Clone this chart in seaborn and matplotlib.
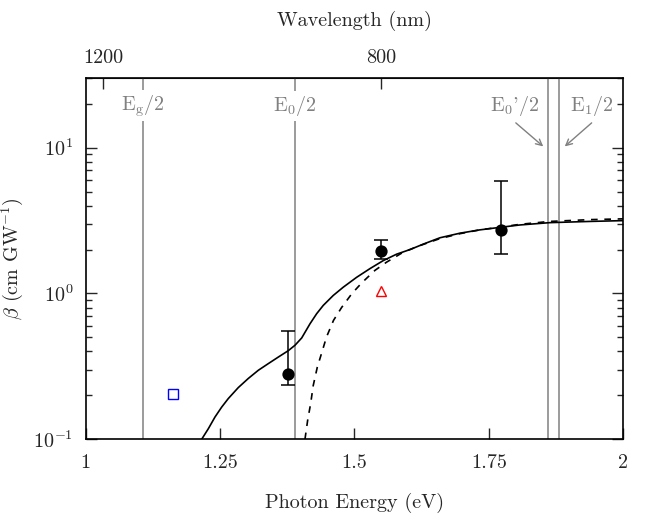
import numpy as np
import pandas as pd
import matplotlib
matplotlib.use("Agg")
import matplotlib.pyplot as plt
import seaborn as sns

# ---- data ----
solid_E = [1.216, 1.2283, 1.2407, 1.2531, 1.2654, 1.284, 1.3026, 1.3212, 1.3398, 1.3584,
           1.377, 1.3894, 1.4019, 1.4173, 1.4297, 1.442, 1.4606, 1.4792, 1.504, 1.5288,
           1.5535, 1.5784, 1.6032, 1.628, 1.659, 1.696, 1.733, 1.7704, 1.8076, 1.863,
           1.938, 2.0]
solid_beta = [0.100, 0.118, 0.142, 0.166, 0.190, 0.226, 0.261, 0.297, 0.330, 0.366,
              0.405, 0.441, 0.495, 0.619, 0.726, 0.828, 0.969, 1.104, 1.29, 1.48,
              1.68, 1.86, 2.00, 2.18, 2.41, 2.59, 2.73, 2.84, 2.95, 3.06,
              3.12, 3.16]

dash_E = [1.408, 1.413, 1.4186, 1.4234, 1.431, 1.439, 1.448, 1.461, 1.476, 1.495,
          1.5134, 1.5381, 1.5598, 1.5908, 1.6217, 1.659, 1.696, 1.733, 1.7704, 1.8076,
          1.863, 1.938, 2.0]
dash_beta = [0.100, 0.135, 0.176, 0.234, 0.313, 0.39, 0.502, 0.653, 0.80, 0.995,
             1.18, 1.44, 1.64, 1.92, 2.13, 2.38, 2.57, 2.73, 2.85, 2.98,
             3.12, 3.21, 3.25]

meas_E = [1.377, 1.549, 1.772]
meas_beta = [0.282, 1.97, 2.72]
meas_lo = [0.236, 1.71, 1.87]
meas_hi = [0.552, 2.31, 5.94]

tri_E = [1.549]
tri_beta = [1.04]
sq_E = [1.163]
sq_beta = [0.203]

line_E = [1.1075, 1.389, 1.860, 1.8807]
line_labels = [r"E$_\mathrm{g}$/2", r"E$_0$/2", r"E$_0$'/2", r"E$_1$/2"]

x_ticks = [1, 1.25, 1.5, 1.75, 2]
x_ticklabels = ["1", "1.25", "1.5", "1.75", "2"]
y_ticks = [0.1, 1, 10]
y_ticklabels = [r"$10^{-1}$", r"$10^{0}$", r"$10^{1}$"]
wl_ticks = [1200, 800]

# ---- style ----
sns.set_style("ticks")
plt.rcParams["font.family"] = ["cmr10", "DejaVu Serif"]
plt.rcParams["mathtext.fontset"] = "cm"
plt.rcParams["axes.formatter.use_mathtext"] = True
plt.rcParams["axes.unicode_minus"] = False

fig = plt.figure(figsize=(6.48, 5.21), dpi=100)
ax = fig.add_axes([0.132, 0.157, 0.830, 0.693])

gray = "#808080"
fs = 14.5

for E in line_E:
    ax.axvline(E, color=gray, lw=1.1, zorder=1)

df_s = pd.DataFrame({"E": solid_E, "beta": solid_beta})
df_d = pd.DataFrame({"E": dash_E, "beta": dash_beta})
sns.lineplot(data=df_s, x="E", y="beta", ax=ax, color="black", lw=1.2, sort=False, zorder=3)
sns.lineplot(data=df_d, x="E", y="beta", ax=ax, color="black", lw=1.2, sort=False, zorder=3)
ax.lines[-1].set_dashes((4, 4))

ax.errorbar(meas_E, meas_beta,
            yerr=[np.array(meas_beta) - np.array(meas_lo), np.array(meas_hi) - np.array(meas_beta)],
            fmt="none", ecolor="black", elinewidth=1.1, capsize=5, capthick=1.1, zorder=4)
sns.scatterplot(x=meas_E, y=meas_beta, ax=ax, color="black", s=78, linewidth=0, zorder=5)
ax.plot(tri_E, tri_beta, marker="^", ms=6.5, mfc="none", mec="red", mew=1.0, ls="none", zorder=5)
ax.plot(sq_E, sq_beta, marker="s", ms=6.5, mfc="none", mec="blue", mew=1.0, ls="none", zorder=5)

ax.set_yscale("log")
ax.set_xlim(1, 2)
ax.set_ylim(0.1, 30)

# labels on vertical lines
y_lab = 19.4
for E, lab in zip(line_E[:2], line_labels[:2]):
    ax.text(E, y_lab, lab, color=gray, fontsize=fs, ha="center", va="center", zorder=2,
            bbox=dict(facecolor="white", edgecolor="none", pad=2))
ax.text(1.798, y_lab, line_labels[2], color=gray, fontsize=fs, ha="center", va="center")
ax.text(1.941, y_lab, line_labels[3], color=gray, fontsize=fs, ha="center", va="center")
ax.annotate("", xy=(1.851, 10.2), xytext=(1.800, 14.8),
            arrowprops=dict(arrowstyle="->", color=gray, lw=1.0, shrinkA=0, shrinkB=0,
                            mutation_scale=11))
ax.annotate("", xy=(1.891, 10.2), xytext=(1.941, 14.8),
            arrowprops=dict(arrowstyle="->", color=gray, lw=1.0, shrinkA=0, shrinkB=0,
                            mutation_scale=11))

ax.set_xticks(x_ticks)
ax.set_xticklabels(x_ticklabels)
ax.set_yticks(y_ticks)
ax.set_yticklabels(y_ticklabels)
ax.yaxis.set_minor_formatter(matplotlib.ticker.NullFormatter())
ax.tick_params(axis="x", which="both", direction="in", top=False, bottom=True,
               length=8, width=1, labelsize=fs, pad=11)
ax.tick_params(axis="y", which="major", direction="in", left=True, right=True,
               length=8, width=1, labelsize=fs, pad=9)
ax.tick_params(axis="y", which="minor", direction="in", left=True, right=True,
               length=4, width=1)
for sp in ax.spines.values():
    sp.set_linewidth(1.2)
    sp.set_color("black")

ax.set_xlabel("Photon Energy (eV)", fontsize=fs, labelpad=15)
ax.set_ylabel(r"$\beta$ (cm GW$^{\mathrm{-1}}$)", fontsize=fs, labelpad=6)

sec = ax.secondary_xaxis("top", functions=(lambda e: 1240.0 / np.asarray(e, dtype=float),
                                           lambda w: 1240.0 / np.asarray(w, dtype=float)))
sec.set_xticks(wl_ticks)
sec.set_xticklabels([str(w) for w in wl_ticks])
sec.xaxis.set_minor_locator(matplotlib.ticker.NullLocator())
sec.tick_params(axis="x", direction="in", length=8, width=1, labelsize=fs, pad=8)
sec.set_xlabel("Wavelength (nm)", fontsize=fs, labelpad=17)

fig.savefig("out.png", dpi=100)
